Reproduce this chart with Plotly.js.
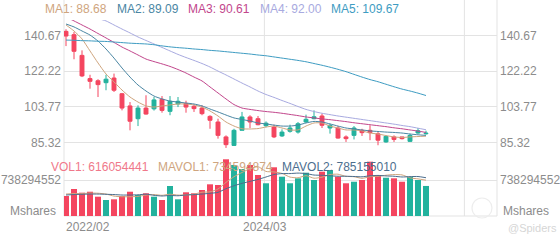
<!DOCTYPE html>
<html>
<head>
<meta charset="utf-8">
<script src="https://cdn.plot.ly/plotly-3.0.1.min.js"></script>
<style>html,body{margin:0;padding:0;background:#fff;}#chart{width:560px;height:240px;}</style>
</head>
<body>
<div id="chart"></div>
<script>
// ---- data (monthly, 2022/02 .. 2025/11) ----
const months = ['2022/02','2022/03','2022/04','2022/05','2022/06','2022/07','2022/08','2022/09','2022/10','2022/11','2022/12',
'2023/01','2023/02','2023/03','2023/04','2023/05','2023/06','2023/07','2023/08','2023/09','2023/10','2023/11','2023/12',
'2024/01','2024/02','2024/03','2024/04','2024/05','2024/06','2024/07','2024/08','2024/09','2024/10','2024/11','2024/12',
'2025/01','2025/02','2025/03','2025/04','2025/05','2025/06','2025/07','2025/08','2025/09','2025/10','2025/11'];
const opens  = [142.8,141.1,130.4,118.4,117.3,116.3,118.7,110.6,104.3,97.7,103.2,102.8,107.7,101.5,105.3,105.6,104.1,103.2,98.9,96.0,88.3,83.9,91.7,98.6,97.7,94.1,93.4,88.8,91.2,90.8,96.0,97.7,99.1,92.9,92.9,88.3,89.1,91.7,91.7,89.9,85.7,88.3,88.3,86.0,90.3,89.9];
const highs  = [143.9,142.5,133.0,120.4,118.1,120.4,121.0,111.0,106.3,104.6,109.8,108.9,109.4,109.4,108.9,107.0,105.0,104.6,99.5,97.7,89.1,92.5,101.2,99.5,99.1,96.3,94.6,92.2,94.6,96.0,99.8,102.0,100.3,95.1,93.9,89.1,93.9,92.5,94.3,90.8,89.1,89.1,88.3,89.9,92.9,91.5];
const lows   = [135.2,128.4,119.2,113.2,108.9,112.4,111.5,102.0,91.7,93.9,99.8,101.9,100.8,99.5,103.7,100.8,101.2,99.5,92.5,87.4,82.6,83.6,91.7,92.9,94.3,93.3,87.7,88.3,90.5,90.0,95.6,97.4,92.9,90.0,87.4,85.7,87.0,88.8,86.6,84.0,85.3,85.7,87.0,85.7,89.9,89.5];
const closes = [140.4,132.5,119.8,117.0,115.3,118.1,112.4,103.2,96.4,103.2,100.1,107.4,102.0,106.7,106.7,103.7,102.9,100.3,96.9,89.1,84.3,91.7,98.6,96.0,94.6,95.4,88.3,90.8,92.9,95.1,97.4,98.7,94.3,94.3,87.7,87.4,92.9,90.5,90.5,86.6,88.6,87.0,87.4,89.1,91.5,90.2];
const ma1 = [146.1,143.0,138.9,132.7,126.5,120.8,116.7,112.5,108.9,106.3,104.3,103.7,104.3,104.8,105.3,105.3,104.8,103.7,101.7,99.1,96.0,93.9,92.5,92.4,92.6,93.4,93.9,92.9,91.9,91.9,93.9,95.5,95.5,93.9,92.9,91.9,91.9,91.4,90.3,89.8,89.0,88.3,88.0,88.3,88.5,88.68];
const ma2 = [146.6,145.1,143.0,140.9,137.8,133.7,129.0,123.9,119.2,115.1,112.0,109.4,107.9,106.8,106.3,105.8,105.3,104.3,102.7,101.2,99.6,98.1,97.3,96.5,95.5,95.0,94.4,93.9,93.9,94.4,95.5,96.3,96.0,95.0,93.9,92.9,92.4,91.9,91.4,91.1,90.8,90.6,90.3,89.8,89.4,89.09];
const ma3 = [150.2,148.2,146.1,144.0,141.7,139.4,137.1,134.7,132.7,130.6,128.5,127.2,126.0,124.7,123.1,121.3,119.2,117.2,114.1,111.0,107.9,105.0,103.2,102.5,101.9,101.4,101.0,100.5,99.9,99.3,98.6,98.1,97.6,97.2,96.7,96.2,95.6,95.1,94.6,94.1,93.6,93.0,92.5,91.9,91.3,90.61];
const ma4 = [155.4,153.8,152.3,150.7,149.4,148.2,146.1,144.0,142.0,139.9,138.1,136.3,134.5,132.7,130.9,129.3,127.8,126.2,124.4,122.3,120.3,118.2,116.1,114.1,112.0,110.2,108.7,107.1,105.6,104.0,102.5,101.4,100.5,99.8,99.1,98.5,97.9,97.3,96.7,96.1,95.5,94.9,94.2,93.6,92.8,92.00];
const ma5 = [138.3,138.2,138.0,137.9,137.7,137.6,137.3,137.0,136.7,136.5,136.3,135.9,135.3,134.8,134.4,134.1,133.7,133.4,133.0,132.7,132.3,131.9,131.5,131.1,130.6,130.2,129.6,129.0,128.4,127.8,127.1,126.2,125.3,124.3,123.2,122.0,120.6,119.2,117.9,116.8,115.5,114.2,113.0,112.0,110.9,109.67];
const volumes = [410e6,554e6,478e6,498e6,396e6,328e6,342e6,410e6,498e6,431e6,466e6,396e6,328e6,615e6,342e6,486e6,466e6,533e6,650e6,636e6,1163e6,1046e6,964e6,1046e6,841e6,671e6,999e6,806e6,671e6,773e6,888e6,738e6,909e6,943e6,806e6,671e6,703e6,738e6,1114e6,841e6,785e6,773e6,703e6,806e6,738e6,616054441];
const mavol1 = [450e6,460e6,460e6,470e6,467e6,451e6,408e6,395e6,395e6,402e6,429e6,440e6,424e6,447e6,429e6,433e6,447e6,488e6,495e6,554e6,690e6,806e6,892e6,971e6,1012e6,914e6,904e6,873e6,798e6,784e6,827e6,775e6,796e6,850e6,857e6,813e6,806e6,772e6,806e6,813e6,836e6,850e6,843e6,782e6,761e6,734594874];
const mavol2 = [430e6,440e6,445e6,450e6,450e6,445e6,440e6,430e6,430e6,435e6,448e6,424e6,410e6,421e6,415e6,431e6,438e6,450e6,465e6,485e6,560e6,620e6,670e6,710e6,750e6,800e6,850e6,870e6,870e6,880e6,870e6,840e6,835e6,825e6,815e6,815e6,810e6,804e6,825e6,832e6,822e6,815e6,800e6,807e6,810e6,785155010];
const priceTicks = [140.67,122.22,103.77,85.32];
const volTick = 738294552;
const xTickIdx = [0,25];
const xTickText = ['2022/02','2024/03'];

// ---- drawing ----
const UP = '#22B29D', DOWN = '#F4455F';
const C_MA = ['#CFA57E','#4A86A3','#C2468C','#A8AAE0','#3E9CC2'];
const C_VOL = '#F0788A', C_MAVOL1 = '#CFA57E', C_MAVOL2 = '#4C6E8E';
const idx = months.map((_, i) => i);
const volColors = idx.map(i => closes[i] >= opens[i] ? UP : DOWN);
const font = 'Liberation Sans, Arial, sans-serif';
const tickFont = {family: font, size: 12, color: '#8c8c8c'};

const traces = [
  {type:'bar', x: idx, y: volumes, xaxis:'x', yaxis:'y2', width:0.75, marker:{color: volColors, line:{width:0}}, hoverinfo:'skip'},
  {type:'scatter', mode:'lines', x: idx, y: mavol1, xaxis:'x', yaxis:'y2', line:{color:C_MAVOL1, width:1, shape:'spline', smoothing:0.6}, hoverinfo:'skip'},
  {type:'scatter', mode:'lines', x: idx, y: mavol2, xaxis:'x', yaxis:'y2', line:{color:C_MAVOL2, width:1, shape:'spline', smoothing:0.6}, hoverinfo:'skip'},
  {type:'candlestick', x: idx, open: opens, high: highs, low: lows, close: closes, xaxis:'x', yaxis:'y',
   whiskerwidth: 0,
   increasing:{line:{color:UP, width:1}, fillcolor:UP},
   decreasing:{line:{color:DOWN, width:1}, fillcolor:DOWN}, hoverinfo:'skip'}
];
[ma1, ma2, ma3, ma4, ma5].forEach((arr, k) => {
  traces.push({type:'scatter', mode:'lines', x: idx, y: arr, xaxis:'x', yaxis:'y',
    line:{color: C_MA[k], width:1, shape:'spline', smoothing:0.6}, hoverinfo:'skip'});
});

const W = 433, H = 216, L = 64;
const px = p => (p - L) / W;
const py = p => (H - p) / H;

const priceRange = [81.54, 148.67];
const volRange = [0, 1251e6];

const ann = [];
const legendTop = [['MA1: 88.68',43],['MA2: 89.09',115],['MA3: 90.61',186],['MA4: 92.00',258],['MA5: 109.67',329]];
legendTop.forEach((t, k) => ann.push({text:t[0], xref:'paper', yref:'paper', x:px(t[1]), y:py(9), xanchor:'left', yanchor:'middle', showarrow:false, font:{family:font, size:12, color:C_MA[k]}}));
const legendVol = [['VOL1: 616054441',49,C_VOL],['MAVOL1: 734594874',156,C_MAVOL1],['MAVOL2: 785155010',280,C_MAVOL2]];
legendVol.forEach(t => ann.push({text:t[0], xref:'paper', yref:'paper', x:px(t[1]), y:py(166.5), xanchor:'left', yanchor:'middle', showarrow:false, font:{family:font, size:12, color:t[2]}}));
ann.push({text:xTickText[0], xref:'paper', yref:'paper', x:0, y:py(227), xanchor:'left', yanchor:'middle', showarrow:false, font:tickFont});
ann.push({text:xTickText[1], xref:'x', yref:'paper', x:xTickIdx[1]-0.15, y:py(227), xanchor:'center', yanchor:'middle', showarrow:false, font:tickFont});
ann.push({text:'Mshares', xref:'paper', yref:'paper', x:px(58), y:py(211), xanchor:'right', yanchor:'middle', showarrow:false, font:tickFont});
ann.push({text:'Mshares', xref:'paper', yref:'paper', x:px(501), y:py(211), xanchor:'left', yanchor:'middle', showarrow:false, font:tickFont});
ann.push({text:'@Spiders', xref:'paper', yref:'paper', x:px(506), y:py(228), xanchor:'left', yanchor:'middle', showarrow:false, font:{family:font, size:11, color:'#d6d6d6'}});

const lineC = '#e3e3e3';
const shapes = [
  {type:'line', xref:'x', yref:'paper', x0:24.8, x1:24.8, y0:0, y1:1, line:{color:lineC, width:1}, layer:'below'},
  {type:'line', xref:'x', yref:'paper', x0:49.8, x1:49.8, y0:0, y1:1, line:{color:lineC, width:1}, layer:'below'},
  {type:'line', xref:'paper', yref:'paper', x0:0, x1:0, y0:0, y1:1, line:{color:lineC, width:1}, layer:'below'},
  {type:'line', xref:'paper', yref:'paper', x0:1, x1:1, y0:0, y1:1, line:{color:lineC, width:1}, layer:'below'},
  {type:'line', xref:'paper', yref:'paper', x0:0, x1:1, y0:0, y1:0, line:{color:lineC, width:1}, layer:'below'},
  {type:'circle', xref:'paper', yref:'paper', x0:px(472), x1:px(492), y0:py(218), y1:py(198), line:{color:'#ededed', width:1.2}, layer:'below'}
];

const yBase = {zeroline:false, showline:false, ticks:'', fixedrange:true, tickfont:tickFont};
const layout = {
  width:560, height:240,
  margin:{l:L, r:560-L-W, t:0, b:240-H},
  paper_bgcolor:'#fff', plot_bgcolor:'#fff',
  showlegend:false, hovermode:false, dragmode:false,
  xaxis:{range:[-0.25, 53.875], showgrid:false, zeroline:false, showline:false, showticklabels:false, ticks:'', anchor:'y2', rangeslider:{visible:false}, fixedrange:true},
  yaxis:Object.assign({}, yBase, {domain:[py(150), py(20)], range:priceRange, tickmode:'array', tickvals:priceTicks, ticktext:priceTicks.map(v=>v.toFixed(2)), showgrid:true, gridcolor:lineC, side:'left', anchor:'x', ticklabelstandoff:2}),
  yaxis3:Object.assign({}, yBase, {overlaying:'y', range:priceRange, tickmode:'array', tickvals:priceTicks, ticktext:priceTicks.map(v=>v.toFixed(2)), showgrid:false, side:'right', anchor:'x', ticklabelstandoff:2}),
  yaxis2:Object.assign({}, yBase, {domain:[0, py(155)], range:volRange, tickmode:'array', tickvals:[volTick], ticktext:[String(volTick)], showgrid:true, gridcolor:lineC, side:'left', anchor:'x', ticklabelstandoff:2}),
  yaxis4:Object.assign({}, yBase, {overlaying:'y2', range:volRange, tickmode:'array', tickvals:[volTick], ticktext:[String(volTick)], showgrid:false, side:'right', anchor:'x', ticklabelstandoff:2}),
  annotations: ann,
  shapes: shapes
};
// dummy traces so the right-side axes are drawn
traces.push({type:'scatter', x:[0], y:[null], xaxis:'x', yaxis:'y3', hoverinfo:'skip', showlegend:false});
traces.push({type:'scatter', x:[0], y:[null], xaxis:'x', yaxis:'y4', hoverinfo:'skip', showlegend:false});

Plotly.newPlot('chart', traces, layout, {staticPlot:true, displayModeBar:false});
</script>
</body>
</html>
